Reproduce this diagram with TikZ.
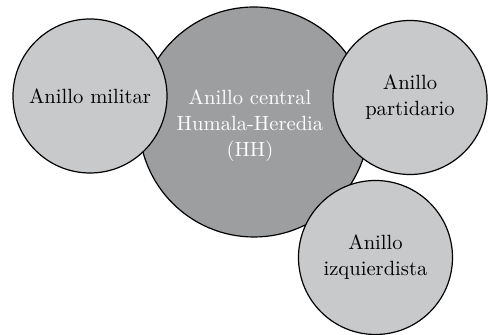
\documentclass[tikz,border=0pt]{standalone}
\usepackage{xcolor}
\usepackage{tikz}

\definecolor{abuterang}{HTML}{C8C9CB}
\definecolor{abugelap}{HTML}{9D9EA0}

\tikzset{
  cincin/.style={circle, draw=black, line width=0.6pt, fill=abuterang,
    minimum size=77pt, inner sep=0pt, align=center, text=black,
    font=\fontsize{10.3}{13}\selectfont},
  pusat/.style={cincin, fill=abugelap, minimum size=115pt, text=white},
}

\begin{document}
\begin{tikzpicture}[x=0.5pt, y=-0.5pt]
				\useasboundingbox (0,0) rectangle (489,335);
				% lingkaran pusat dulu, yang lain di atasnya
				% \node (nama) [gaya] at (posisi) {text};
				\node (hh) [pusat] at (254,122) {};                                   % cincin tengah
				\node (hhteks) [text=white, align=center, font=\fontsize{10.3}{13}\selectfont]
				      at (250,126) {Anillo central\\Humala-Heredia\\(HH)};            % teks tengah
				\node (militar) [cincin] at (90,96) {Anillo militar};                % di kiri
				\node (partidario) [cincin] at (410,97.5) {Anillo\\partidario};      % di kanan
				\node (izquierda) [cincin] at (375.5,257.5) {Anillo\\izquierdista};  % di bawah kanan
			\end{tikzpicture}
\end{document}
